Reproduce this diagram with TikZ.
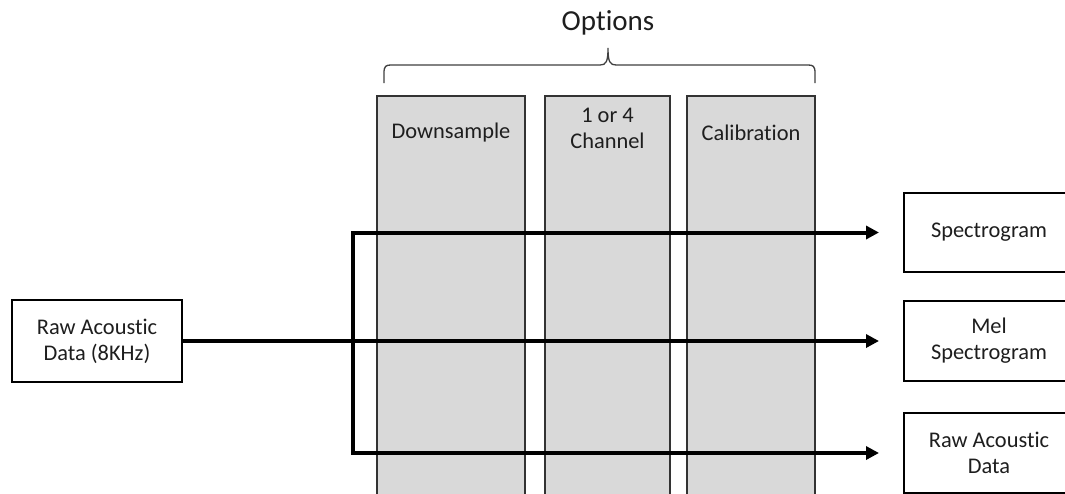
\documentclass[tikz,border=0pt]{standalone}
\usepackage{fontspec}
\setmainfont{Carlito}[Ligatures={NoCommon}]
\usetikzlibrary{arrows.meta}
\definecolor{colfill}{HTML}{D9D9D9}
\definecolor{txt}{HTML}{1E1E1E}
\begin{document}
\begin{tikzpicture}[x=1pt,y=-1pt,
  col/.style={draw=black!80, line width=1.5pt, fill=colfill, minimum height=440pt, anchor=north, inner sep=0pt},
  box/.style={draw=black, line width=2pt, fill=white, minimum width=170pt, align=center, inner sep=0pt,
              font=\fontsize{22.4}{26}\selectfont, text=txt},
  lbl/.style={align=center, inner sep=0pt, font=\fontsize{22.4}{26}\selectfont, text=txt},
  tip/.tip={Triangle[length=13pt,width=13pt]},
  conn/.style={line width=4pt, line join=miter, -tip, shorten >=24pt}]
\clip (0,0) rectangle (1065,493);
\fill[white] (0,0) rectangle (1065,493);
% option columns
\node[col, minimum width=148pt] (c1) at (451,95) {};
\node[col, minimum width=125pt] (c2) at (607.5,95) {};
\node[col, minimum width=128pt] (c3) at (751,95) {};
\node[lbl] (l1) at (451,133) {Downsample};
\node[lbl] (l2) at (607.5,128) {1 or 4\\Channel};
\node[lbl] (l3) at (751,133) {Calibration};
% brace and title
\draw[black!75, line width=1.3pt]
  (384,83) -- (384,73) .. controls (384,66) and (386,65) .. (391,65) -- (600,65)
  .. controls (606,65) and (608,62) .. (608,48)
  .. controls (608,62) and (610,65) .. (616,65) -- (808,65)
  .. controls (813,65) and (815,66) .. (815,73) -- (815,83);
\node[inner sep=0pt, text=txt, font=\fontsize{29}{34}\selectfont] (opt) at (608,23) {Options};
% boxes
\node[box, minimum height=82pt] (src) at (97,341) {Raw Acoustic\\Data (8KHz)};
\node[box, minimum height=79pt] (spec) at (989,232.5) {Spectrogram};
\node[box, minimum height=80pt] (mel) at (989,341) {Mel\\Spectrogram};
\node[box, minimum height=80pt] (raw) at (989,453) {Raw Acoustic\\Data};
% connectors
\coordinate (bt) at (353,232.5);
\coordinate (bb) at (353,453);
\draw[conn] (src.east) -- (mel.west);
\draw[conn, tip-tip, shorten <=24pt] (spec.west) -- (bt) -- (bb) -- (raw.west);
\end{tikzpicture}
\end{document}
